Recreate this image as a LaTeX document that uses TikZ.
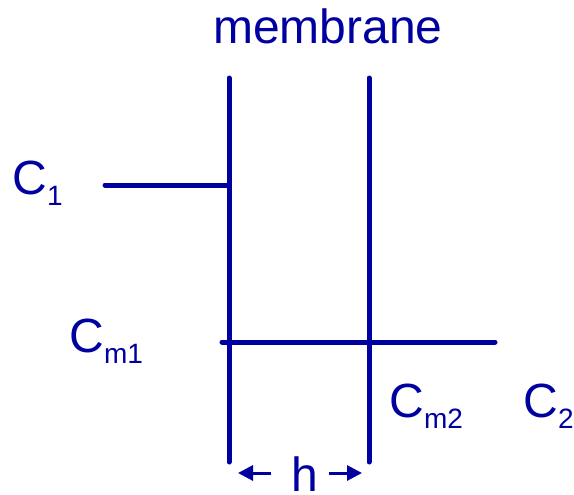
\documentclass[tikz,border=0pt]{standalone}
\usepackage{fontspec}
\setmainfont{Liberation Sans}
\usepackage{xcolor}
\usetikzlibrary{arrows.meta,positioning}
\definecolor{membblue}{RGB}{0,0,160}
\newcommand{\lowsub}[1]{\raisebox{-5.5pt}{\fontsize{14}{15}\selectfont #1}}

\begin{document}
\begin{tikzpicture}[x=0.5pt,y=-0.5pt,
  wall/.style={membblue,line width=2.5pt,line cap=round},
  gap/.style={membblue,line width=1.5pt,-{Triangle[length=7.5pt,width=7.5pt]}},
  lbl/.style={membblue,inner sep=0pt,font=\fontsize{24}{27}\selectfont}]
  \useasboundingbox (0,0) rectangle (574,494);

  \def\xa{229}
  \def\xb{369}
  \def\ytop{78}
  \def\ybot{462}

  % membrane walls
  \coordinate (wa top) at (\xa,\ytop);
  \coordinate (wa bot) at (\xa,\ybot);
  \coordinate (wb top) at (\xb,\ytop);
  \coordinate (wb bot) at (\xb,\ybot);
  \draw[wall] (wa top) -- (wa bot);
  \draw[wall] (wb top) -- (wb bot);

  % concentration levels
  \coordinate (c1 start) at (105,185);
  \coordinate (c1 end) at (\xa,185);
  \coordinate (cm start) at (222,342);
  \coordinate (cm end) at (495,342);
  \draw[wall] (c1 start) -- (c1 end);
  \draw[wall] (cm start) -- (cm end);

  % labels
  \node[lbl,anchor=base] (memb) at (328,43) {membrane};
  \node[lbl,anchor=base west] (c1) at (12,194) {C\lowsub{1}};
  \node[lbl,anchor=base west] (cm1) at (69,352) {C\lowsub{m1}};
  \node[lbl,anchor=base west] (cm2) at (389,417) {C\lowsub{m2}};
  \node[lbl,anchor=base west] (c2) at (523,417) {C\lowsub{2}};
  \node[lbl,anchor=base] (h) at (305,491) {h};

  % thickness arrows
  \coordinate (ha) at (238,473);
  \coordinate (hb) at (362,473);
  \draw[gap] (h.west |- ha) ++(-20,0) -- (ha);
  \draw[gap] (h.east |- hb) ++(10,0) -- (hb);
\end{tikzpicture}
\end{document}
